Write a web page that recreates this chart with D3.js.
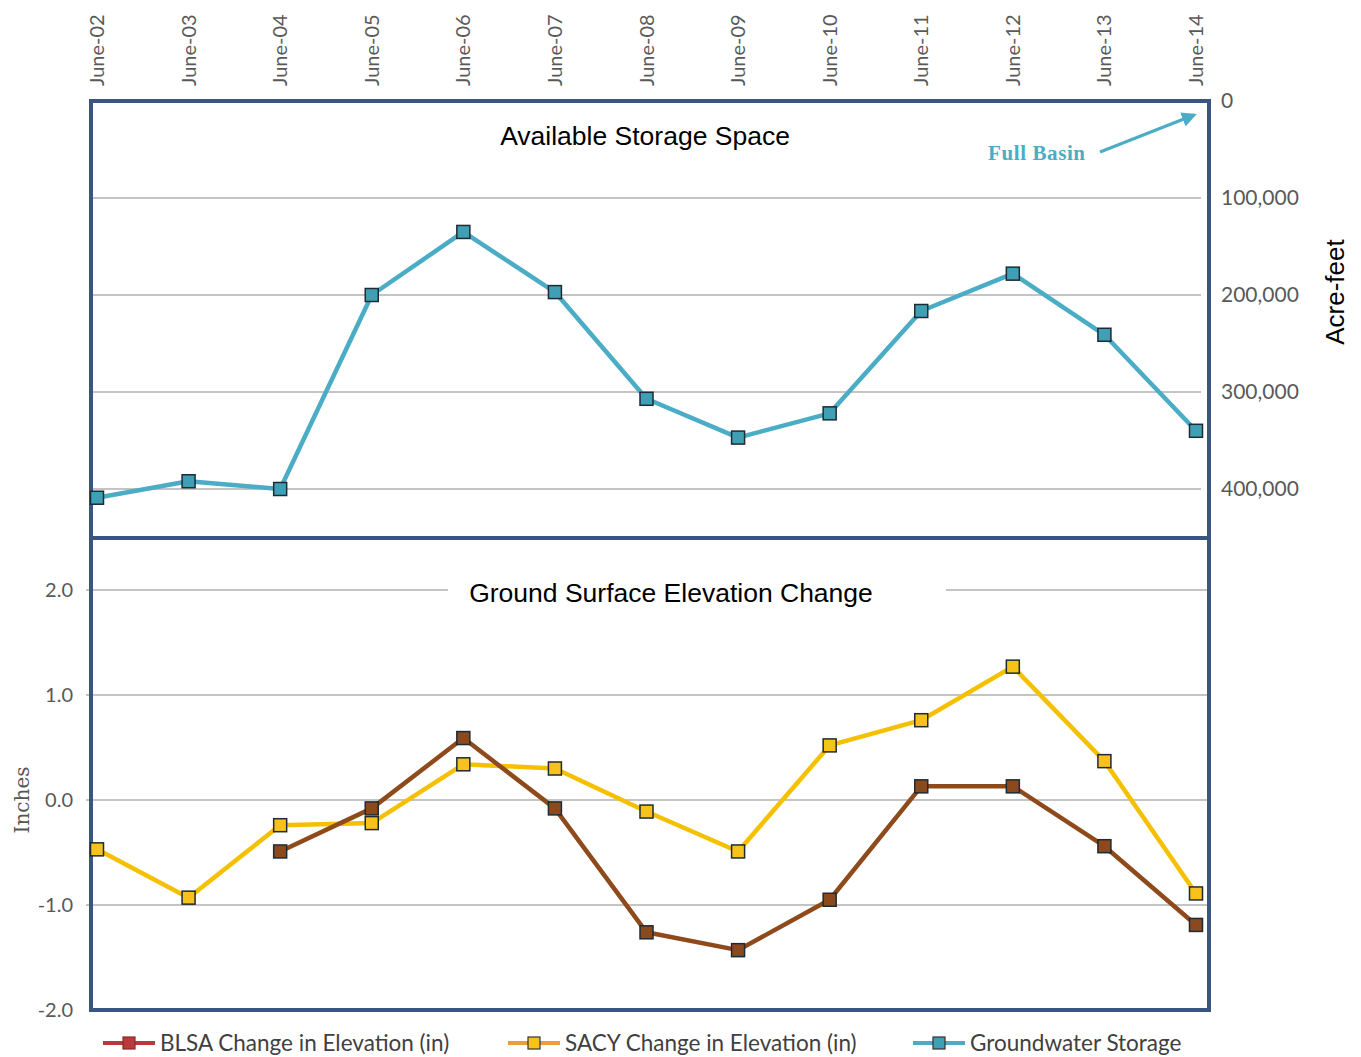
<!DOCTYPE html>
<html>
<head>
<meta charset="utf-8">
<script src="https://cdn.jsdelivr.net/npm/d3@7"></script>
<style>
  body { margin: 0; background: #fff; }
  svg text { font-family: Lato, 'Open Sans', sans-serif; }
</style>
</head>
<body>
<script>
const months = ['June-02', 'June-03', 'June-04', 'June-05', 'June-06', 'June-07', 'June-08',
  'June-09', 'June-10', 'June-11', 'June-12', 'June-13', 'June-14'];
const storage = [409000, 392000, 400000, 200000, 135000, 197000, 307000, 347000, 322000,
  216500, 178000, 241000, 340000];
const blsa = [null, null, -0.49, -0.08, 0.59, -0.08, -1.26, -1.43, -0.95, 0.13, 0.13, -0.44, -1.19];
const sacy = [-0.47, -0.93, -0.24, -0.22, 0.34, 0.30, -0.11, -0.49, 0.52, 0.76, 1.27, 0.37, -0.89];
const storageTicks = [0, 100000, 200000, 300000, 400000];
const inchTicks = [2, 1, 0, -1, -2];
const legendNames = ['BLSA Change in Elevation (in)', 'SACY Change in Elevation (in)', 'Groundwater Storage'];

const width = 1361;
const height = 1057;
const left = 91;
const right = 1209;
const frameColor = '#3a5580';
const gridColor = '#8a8a8a';
const tickColor = '#595959';
const teal = '#4bacc6';
const brown = '#8e4a1a';
const yellow = '#f5c000';

const svg = d3.select('body').append('svg')
  .attr('width', width)
  .attr('height', height);

const x = d3.scalePoint().domain(months).range([97, 1196]);
const yTop = d3.scaleLinear().domain([0, 450000]).range([101, 537.5]);
const yBot = d3.scaleLinear().domain([-2, 2.5]).range([1010, 537.5]);

// month labels along the top
svg.append('g')
  .selectAll('text')
  .data(months)
  .enter()
  .append('text')
  .attr('transform', d => `translate(${x(d) + 7}, 86) rotate(-90)`)
  .attr('fill', tickColor)
  .style('font-size', '20px')
  .text(d => d);

// gridlines, top panel
svg.append('g')
  .selectAll('line')
  .data(storageTicks.filter(d => d > 0))
  .enter()
  .append('line')
  .attr('x1', left)
  .attr('x2', right - 8)
  .attr('y1', d => yTop(d))
  .attr('y2', d => yTop(d))
  .attr('stroke', gridColor)
  .attr('stroke-width', 1.2);

// gridlines, bottom panel
svg.append('g')
  .selectAll('line')
  .data(inchTicks.filter(d => d > -2))
  .enter()
  .append('line')
  .attr('x1', left - 5)
  .attr('x2', right)
  .attr('y1', d => yBot(d))
  .attr('y2', d => yBot(d))
  .attr('stroke', gridColor)
  .attr('stroke-width', 1.2);

// right axis (acre-feet)
const rightAxis = svg.append('g')
  .attr('transform', `translate(${right + 12}, 0)`)
  .call(d3.axisRight(yTop).tickValues(storageTicks).tickSize(0).tickFormat(d3.format(',')));
rightAxis.select('.domain').remove();
rightAxis.selectAll('text')
  .attr('x', 0)
  .attr('fill', tickColor)
  .style('font-size', '21px')
  .style('font-family', 'Lato, sans-serif');

// left axis (inches), plain hyphen for negatives
const leftAxis = svg.append('g')
  .attr('transform', `translate(${left - 18}, 0)`)
  .call(d3.axisLeft(yBot).tickValues(inchTicks).tickSize(0).tickFormat(d => d.toFixed(1)));
leftAxis.select('.domain').remove();
leftAxis.selectAll('text')
  .attr('x', 0)
  .attr('fill', tickColor)
  .style('font-size', '20px')
  .style('font-family', 'Lato, sans-serif');

// frames
svg.append('rect')
  .attr('x', left).attr('y', 101)
  .attr('width', right - left).attr('height', 437)
  .attr('fill', 'none')
  .attr('stroke', frameColor)
  .attr('stroke-width', 4);
svg.append('rect')
  .attr('x', left).attr('y', 538)
  .attr('width', right - left).attr('height', 472)
  .attr('fill', 'none')
  .attr('stroke', frameColor)
  .attr('stroke-width', 4);

// panel titles
svg.append('text')
  .attr('x', 645).attr('y', 145)
  .attr('text-anchor', 'middle')
  .style('font-family', 'Arial, "Liberation Sans", sans-serif')
  .style('font-size', '26.5px')
  .text('Available Storage Space');

const botTitle = svg.append('g');
botTitle.append('rect')
  .attr('x', 448).attr('y', 578)
  .attr('width', 498).attr('height', 24)
  .attr('fill', '#fff');
botTitle.append('text')
  .attr('x', 671).attr('y', 602)
  .attr('text-anchor', 'middle')
  .style('font-family', 'Arial, "Liberation Sans", sans-serif')
  .style('font-size', '26.5px')
  .text('Ground Surface Elevation Change');

// axis titles
svg.append('text')
  .attr('transform', 'translate(1344, 292) rotate(-90)')
  .attr('text-anchor', 'middle')
  .style('font-family', 'Arial, "Liberation Sans", sans-serif')
  .style('font-size', '26px')
  .text('Acre-feet');

svg.append('text')
  .attr('transform', 'translate(29, 800) rotate(-90)')
  .attr('text-anchor', 'middle')
  .attr('fill', '#555')
  .style('font-family', '"DejaVu Serif", "Liberation Serif", serif')
  .style('font-size', '20px')
  .text('Inches');

// Full Basin annotation
svg.append('defs').append('marker')
  .attr('id', 'arrow')
  .attr('viewBox', '0 0 10 10')
  .attr('refX', 8).attr('refY', 5)
  .attr('markerWidth', 5).attr('markerHeight', 5)
  .attr('orient', 'auto')
  .append('path')
  .attr('d', 'M0,0 L10,5 L0,10 Z')
  .attr('fill', teal);

svg.append('line')
  .attr('x1', 1100).attr('y1', 152)
  .attr('x2', 1194).attr('y2', 115)
  .attr('stroke', teal)
  .attr('stroke-width', 3)
  .attr('marker-end', 'url(#arrow)');

svg.append('text')
  .attr('x', 988).attr('y', 160)
  .attr('fill', teal)
  .style('font-family', '"Liberation Serif", "DejaVu Serif", serif')
  .style('font-weight', 'bold')
  .style('font-size', '21px')
  .style('letter-spacing', '0.6px')
  .text('Full Basin');

// series
function drawSeries(values, y, color, markerFill) {
  const pts = months.map((m, i) => ({ m, v: values[i] })).filter(d => d.v !== null);
  const line = d3.line().x(d => x(d.m)).y(d => y(d.v));
  const g = svg.append('g');
  g.append('path')
    .datum(pts)
    .attr('d', line)
    .attr('fill', 'none')
    .attr('stroke', color)
    .attr('stroke-width', 4.5)
    .attr('stroke-linejoin', 'round');
  g.selectAll('rect')
    .data(pts)
    .enter()
    .append('rect')
    .attr('x', d => x(d.m) - 6.5)
    .attr('y', d => y(d.v) - 6.5)
    .attr('width', 13)
    .attr('height', 13)
    .attr('fill', markerFill)
    .attr('stroke', '#1e2b33')
    .attr('stroke-width', 1.5);
}

drawSeries(storage, yTop, teal, '#3f9fb5');
drawSeries(sacy, yBot, yellow, '#f7c21a');
drawSeries(blsa, yBot, brown, '#8a4a1e');

// legend
const legendLine = ['#b93a3a', '#f29a3e', teal];
const legendBox = ['#b83a3a', '#f7c21a', '#3f9fb5'];
const legendX = [103, 508, 913];
const legend = svg.append('g')
  .selectAll('g')
  .data(legendNames)
  .enter()
  .append('g')
  .attr('transform', (d, i) => `translate(${legendX[i]}, 1043)`);
legend.append('line')
  .attr('x1', 0).attr('x2', 52)
  .attr('stroke', (d, i) => legendLine[i])
  .attr('stroke-width', 4);
legend.append('rect')
  .attr('x', 20).attr('y', -6)
  .attr('width', 12).attr('height', 12)
  .attr('fill', (d, i) => legendBox[i])
  .attr('stroke', (d, i) => (i === 0 ? '#8a2a2a' : '#333'))
  .attr('stroke-width', 1.2);
legend.append('text')
  .attr('x', 57).attr('y', 8)
  .attr('fill', '#404040')
  .style('font-size', '22.5px')
  .text(d => d);
</script>
</body>
</html>
